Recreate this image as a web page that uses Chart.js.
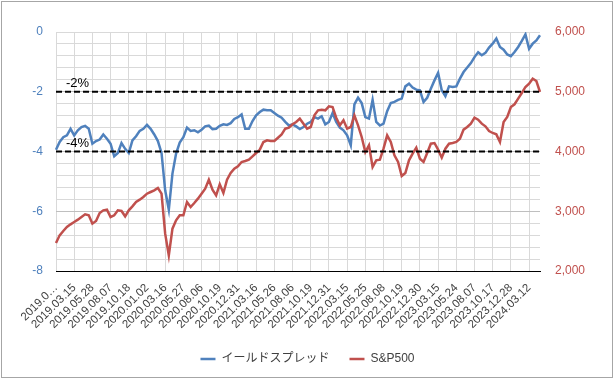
<!DOCTYPE html>
<html>
<head>
<meta charset="utf-8">
<script src="https://cdn.jsdelivr.net/npm/chart.js@4/dist/chart.umd.min.js"></script>
<style>
  body { margin: 0; background: #fff; }
</style>
</head>
<body>
<canvas id="myChart" width="615" height="380"></canvas>
<script>
// tick labels on the x axis (one every 5 data points)
var tickLabels = ['2019.0…', '2019.03.15', '2019.05.28', '2019.08.07', '2019.10.18',
  '2020.01.02', '2020.03.16', '2020.05.27', '2020.08.06', '2020.10.19', '2020.12.31',
  '2021.03.16', '2021.05.26', '2021.08.06', '2021.10.19', '2021.12.31', '2022.03.15',
  '2022.05.25', '2022.08.08', '2022.10.19', '2022.12.30', '2023.03.15', '2023.05.24',
  '2023.08.07', '2023.10.17', '2023.12.28', '2024.03.12'];

// yield spread (%)
var yieldSpread = [
  -3.94, -3.68, -3.52, -3.46, -3.24, -3.46, -3.29, -3.18, -3.14, -3.24,
  -3.74, -3.65, -3.60, -3.43, -3.57, -3.74, -4.16, -4.05, -3.72, -3.91,
  -4.05, -3.63, -3.49, -3.31, -3.24, -3.11, -3.24, -3.43, -3.65, -4.05,
  -5.30, -5.95, -4.74, -4.07, -3.70, -3.52, -3.20, -3.31, -3.29, -3.36,
  -3.27, -3.16, -3.13, -3.25, -3.24, -3.14, -3.09, -3.11, -3.05, -2.91,
  -2.85, -2.76, -3.24, -3.24, -2.98, -2.79, -2.68, -2.60, -2.62, -2.62,
  -2.71, -2.80, -2.87, -3.01, -3.13, -3.09, -3.16, -3.25, -3.18, -3.07,
  -3.01, -2.85, -2.90, -2.82, -3.09, -3.01, -2.71, -3.01, -3.20, -3.29,
  -3.46, -3.79, -2.42, -2.20, -2.38, -2.85, -2.90, -2.27, -3.01, -3.13,
  -3.07, -2.65, -2.38, -2.34, -2.27, -2.23, -1.82, -1.73, -1.86, -1.93,
  -1.95, -2.34, -2.20, -1.90, -1.62, -1.37, -1.95, -2.15, -1.82, -1.84,
  -1.82, -1.56, -1.34, -1.19, -1.04, -0.84, -0.68, -0.78, -0.70, -0.52,
  -0.39, -0.22, -0.50, -0.59, -0.75, -0.81, -0.67, -0.50, -0.30, -0.08,
  -0.56, -0.39, -0.28, -0.11];

// S&P500
var sp500 = [
  2468, 2597, 2669, 2736, 2781, 2820, 2859, 2904, 2948, 2932,
  2792, 2837, 2971, 3015, 3026, 2904, 2932, 3015, 3004, 2915,
  3015, 3082, 3155, 3194, 3238, 3294, 3322, 3350, 3389, 3294,
  2625, 2262, 2708, 2848, 2932, 2932, 3155, 3071, 3138, 3211,
  3294, 3378, 3528, 3361, 3266, 3450, 3305, 3528, 3640, 3713,
  3752, 3824, 3841, 3863, 3919, 3975, 4031, 4159, 4187, 4176,
  4176, 4231, 4287, 4382, 4398, 4455, 4494, 4549, 4466, 4382,
  4410, 4605, 4689, 4700, 4689, 4756, 4745, 4566, 4438, 4522,
  4382, 4410, 4605, 4438, 4243, 3992, 4103, 3741, 3852, 3863,
  4047, 4271, 4159, 3936, 3824, 3590, 3640, 3852, 3964, 4064,
  3880, 3825, 3975, 4131, 4142, 4031, 3897, 4047, 4131, 4142,
  4159, 4215, 4366, 4410, 4466, 4566, 4533, 4466, 4422, 4343,
  4310, 4287, 4159, 4494, 4578, 4745, 4790, 4884, 4979, 5080,
  5135, 5219, 5180, 4996];

// reference lines
var refLevels = [-2, -4];
var refTexts = ['-2%', '-4%'];

var FONT = "'Liberation Sans', 'Noto Sans CJK JP', sans-serif";
var BLUE = 'rgb(79,129,189)';
var RED = 'rgb(192,80,77)';

var labels = yieldSpread.map(function (v, i) { return i % 5 === 0 ? tickLabels[i / 5] : ''; });

var refSets = refLevels.map(function (lv) {
  return {
    label: String(lv),
    data: labels.map(function () { return lv; }),
    yAxisID: 'y',
    borderColor: '#000',
    borderWidth: 2,
    borderDash: [6, 3],
    pointRadius: 0,
    order: 0
  };
});

// background, -2% / -4% texts and the outer border
var extras = {
  id: 'extras',
  beforeDraw: function (chart) {
    var ctx = chart.ctx;
    ctx.save();
    ctx.fillStyle = '#fff';
    ctx.fillRect(0, 0, chart.width, chart.height);
    ctx.restore();
  },
  afterDraw: function (chart) {
    var ctx = chart.ctx;
    var y = chart.scales.y;
    ctx.save();
    ctx.font = '13px ' + FONT;
    ctx.fillStyle = '#000';
    ctx.textAlign = 'left';
    ctx.textBaseline = 'middle';
    refLevels.forEach(function (lv, i) {
      ctx.fillText(refTexts[i], 66, y.getPixelForValue(lv) - 8);
    });
    ctx.strokeStyle = '#a6a6a6';
    ctx.lineWidth = 1;
    ctx.strokeRect(1.5, 1.5, 611, 376);
    ctx.restore();
  }
};

function isMajor(v) {
  var r = Math.round(v * 10) / 10;
  return Math.abs(r / 2 - Math.round(r / 2)) < 1e-6;
}

var ctx = document.getElementById('myChart').getContext('2d');
var myChart = new Chart(ctx, {
  type: 'line',
  data: {
    labels: labels,
    datasets: [{
      label: 'イールドスプレッド',
      data: yieldSpread,
      yAxisID: 'y',
      borderColor: BLUE,
      backgroundColor: BLUE,
      borderWidth: 2.5,
      pointRadius: 0,
      order: 2
    }, {
      label: 'S&P500',
      data: sp500,
      yAxisID: 'y1',
      borderColor: RED,
      backgroundColor: RED,
      borderWidth: 2.5,
      pointRadius: 0,
      order: 1
    }].concat(refSets)
  },
  options: {
    responsive: false,
    animation: false,
    layout: { padding: { top: 32, bottom: 5, left: 0, right: 0 } },
    plugins: {
      legend: {
        position: 'bottom',
        labels: {
          usePointStyle: true,
          pointStyle: 'line',
          pointStyleWidth: 15,
          padding: 20,
          color: '#404040',
          font: { size: 12, family: FONT },
          filter: function (item) { return item.datasetIndex < 2; },
          sort: function (a, b) { return a.datasetIndex - b.datasetIndex; }
        }
      },
      tooltip: { enabled: false }
    },
    scales: {
      x: {
        grid: {
          color: function (c) { return c.index % 5 === 0 ? '#d9d9d9' : 'rgba(0,0,0,0)'; },
          drawTicks: false
        },
        border: { color: '#000', width: 1 },
        ticks: {
          autoSkip: false, minRotation: 45, maxRotation: 45, padding: 10,
          color: '#404040', font: { size: 11.5, family: FONT }
        },
        afterFit: function (s) { s.height = 62; }
      },
      y: {
        position: 'left',
        min: -8, max: 0,
        ticks: {
          stepSize: 0.4, autoSkip: false, padding: 13,
          color: BLUE, font: { size: 12, family: FONT },
          callback: function (v) { return isMajor(v) ? String(Math.round(v)) : ''; }
        },
        grid: {
          color: function (c) {
            var v = c.tick.value;
            return (isMajor(v) && v < -0.1 && v > -7.9) ? '#bfbfbf' : '#d9d9d9';
          },
          drawTicks: false
        },
        border: { display: false },
        afterFit: function (s) { s.width = 56; }
      },
      y1: {
        position: 'right',
        min: 2000, max: 6000,
        ticks: {
          stepSize: 200, autoSkip: false, padding: 15,
          color: RED, font: { size: 12, family: FONT },
          callback: function (v) { return v % 1000 === 0 ? v.toLocaleString('en-US') : ''; }
        },
        grid: { drawOnChartArea: false, drawTicks: false },
        border: { display: false },
        afterFit: function (s) { s.width = 75; }
      }
    }
  },
  plugins: [extras]
});
</script>
</body>
</html>
